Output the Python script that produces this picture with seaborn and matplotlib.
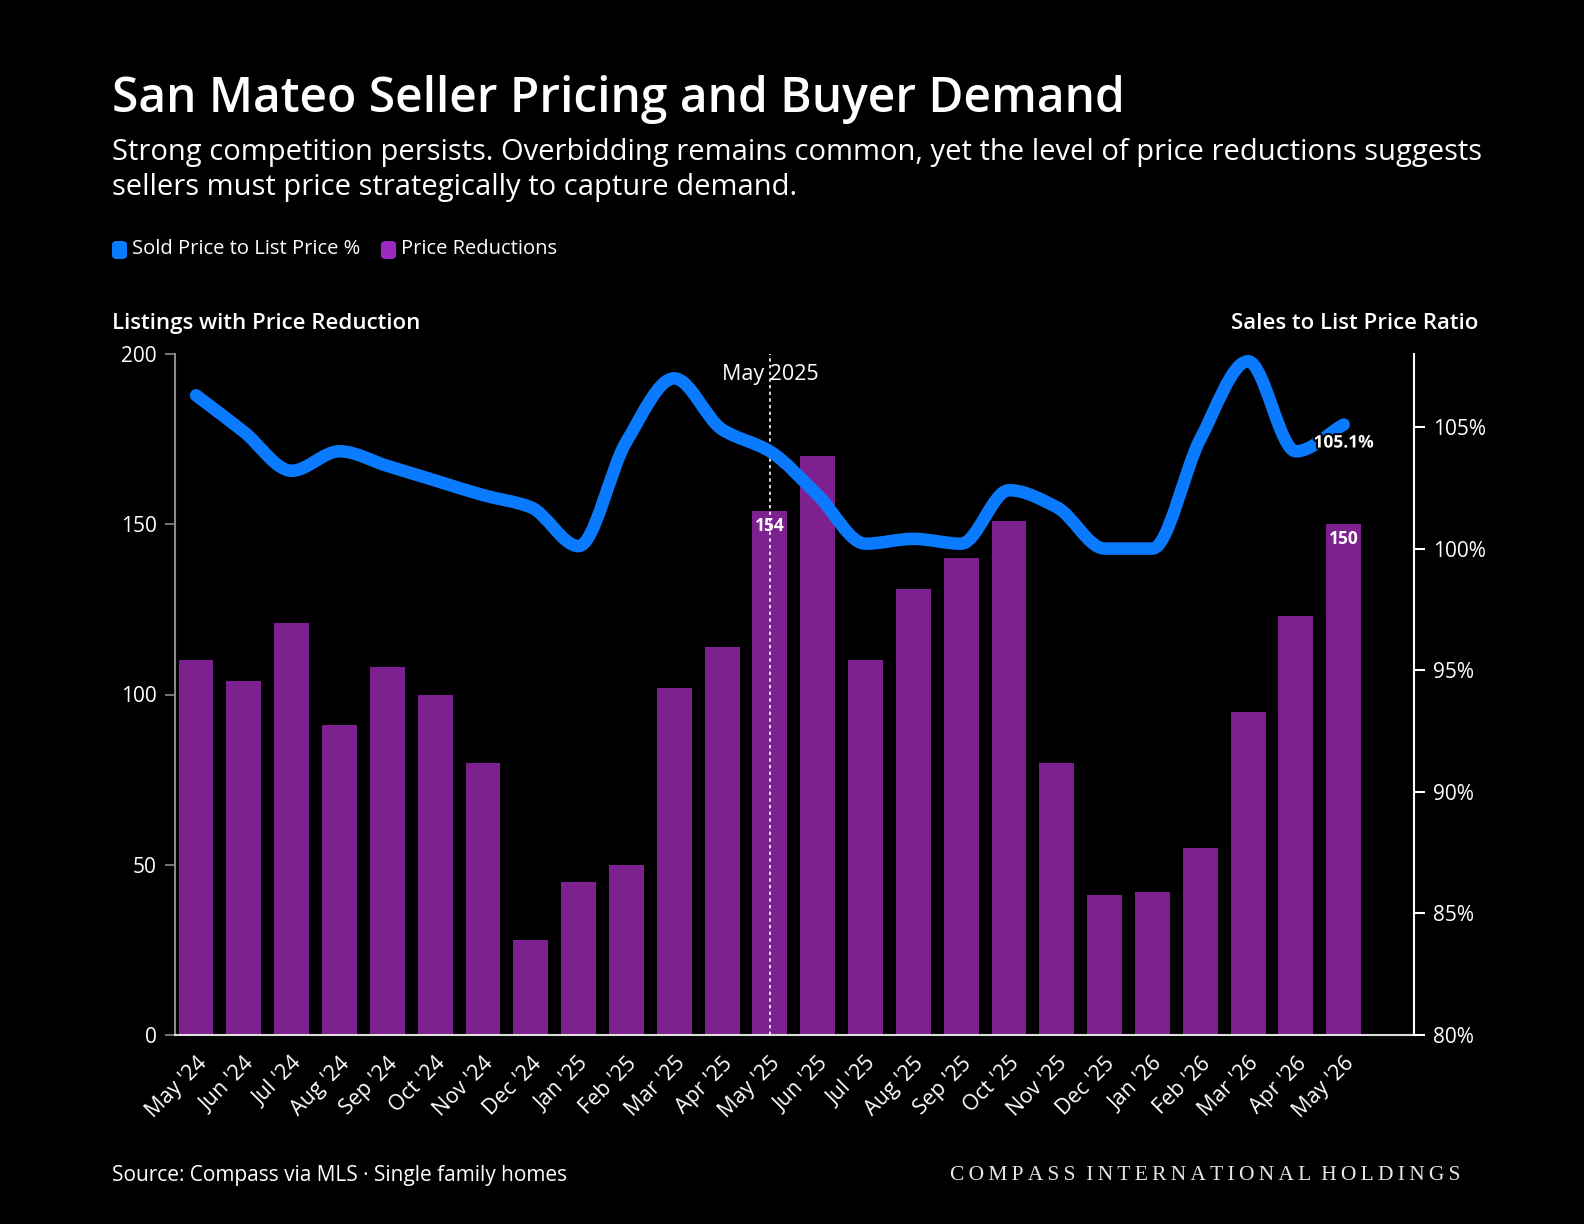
import numpy as np
import pandas as pd
import matplotlib
matplotlib.use("Agg")
import matplotlib.pyplot as plt
import seaborn as sns
from matplotlib.path import Path
from matplotlib.patches import PathPatch, FancyBboxPatch
import matplotlib.patheffects as pe

# Data
months = ["May '24", "Jun '24", "Jul '24", "Aug '24", "Sep '24", "Oct '24", "Nov '24",
          "Dec '24", "Jan '25", "Feb '25", "Mar '25", "Apr '25", "May '25", "Jun '25",
          "Jul '25", "Aug '25", "Sep '25", "Oct '25", "Nov '25", "Dec '25", "Jan '26",
          "Feb '26", "Mar '26", "Apr '26", "May '26"]
price_reductions = [110, 104, 121, 91, 108, 100, 80, 28, 45, 50, 102, 114, 154, 170,
                    110, 131, 140, 151, 80, 41, 42, 55, 95, 123, 150]
sold_to_list = [106.3, 104.8, 103.2, 104.0, 103.4, 102.8, 102.2, 101.7, 100.1, 104.4,
                107.0, 104.9, 104.0, 102.2, 100.2, 100.4, 100.2, 102.4, 101.7, 100.0,
                100.0, 104.5, 107.7, 104.0, 105.1]
left_ticks = [0, 50, 100, 150, 200]
right_ticks = [80, 85, 90, 95, 100, 105]
highlight_month = "May '25"

BLUE = "#0A7BFF"
PURPLE = "#7E2190"
FONT = ["Open Sans", "DejaVu Sans"]

df = pd.DataFrame({"month": months, "reductions": price_reductions, "ratio": sold_to_list})

sns.set_theme(style="dark")
plt.rcParams["font.family"] = FONT
plt.rcParams["text.color"] = "white"

fig = plt.figure(figsize=(15.84, 12.24), dpi=100, facecolor="black")
ax = fig.add_axes([175 / 1584, 1 - 1035 / 1224, (1414 - 175) / 1584, (1035 - 354) / 1224])
ax.set_facecolor("black")

sns.barplot(data=df, x="month", y="reductions", color=PURPLE, saturation=1,
            width=0.73, linewidth=0, edgecolor="none", ax=ax, zorder=2)
ax.set_xlim(-0.44, 25.47)
ax.set_ylim(0, 200)
ax.set_yticks(left_ticks)
ax.set_xlabel("")
ax.set_ylabel("")
ax.grid(False)
ax.set_xticks(range(len(months)))
ax.set_xticklabels(months, rotation=45, ha="right", rotation_mode="anchor",
                   fontsize=15.5, color="white")
ax.tick_params(axis="x", length=8, width=1.2, color="white", pad=5)
ax.tick_params(axis="y", length=7, width=1.2, color="#8a8a8a", labelsize=15,
               labelcolor="white", pad=6)
for s in ["top", "right"]:
    ax.spines[s].set_visible(False)
ax.spines["left"].set_color("#8a8a8a")
ax.spines["left"].set_linewidth(1.5)
ax.spines["bottom"].set_color("#dddddd")
ax.spines["bottom"].set_linewidth(1.5)

# bar value labels
for i in (months.index(highlight_month), len(months) - 1):
    ax.annotate(str(price_reductions[i]), (i, price_reductions[i]), xytext=(0, -6),
                textcoords="offset pixels", ha="center", va="top", fontsize=12.5,
                fontweight="bold", color="white", zorder=5)

# highlight line
hx = months.index(highlight_month)
ax.axvline(hx, color="white", lw=1.2, ls=(0, (2, 2)), zorder=4)
ax.text(hx, 194, "May 2025", ha="center", va="center", fontsize=15.5, color="white", zorder=5)

# right axis: sold to list ratio
ax2 = ax.twinx()
ax2.set_ylim(80, 108)
ax2.set_yticks(right_ticks)
ax2.set_yticklabels([f"{t}%" for t in right_ticks])
ax2.tick_params(axis="y", length=8, width=1.5, color="white", labelsize=15,
                labelcolor="white", pad=6)
ax2.grid(False)
for s in ["top", "left", "bottom"]:
    ax2.spines[s].set_visible(False)
ax2.spines["right"].set_color("white")
ax2.spines["right"].set_linewidth(1.5)

# monotone cubic curve through the points
x = np.arange(len(sold_to_list), dtype=float)
y = np.array(sold_to_list)
d = np.diff(y)
m = np.zeros_like(y)
m[0], m[-1] = d[0], d[-1]
for k in range(1, len(y) - 1):
    if d[k - 1] * d[k] > 0:
        m[k] = 2 / (1 / d[k - 1] + 1 / d[k])
verts = [(x[0], y[0])]
codes = [Path.MOVETO]
for k in range(len(y) - 1):
    verts += [(x[k] + 1 / 3, y[k] + m[k] / 3), (x[k + 1] - 1 / 3, y[k + 1] - m[k + 1] / 3),
              (x[k + 1], y[k + 1])]
    codes += [Path.CURVE4] * 3
curve = PathPatch(Path(verts, codes), facecolor="none", edgecolor=BLUE, lw=9,
                  capstyle="round", joinstyle="round", zorder=3)
ax2.add_patch(curve)
ax2.annotate(f"{sold_to_list[-1]}%", (x[-1], y[-1]), xytext=(0, -18),
             textcoords="offset pixels", ha="center", va="center", fontsize=12.5,
             fontweight="bold", color="white", zorder=6,
             path_effects=[pe.withStroke(linewidth=3, foreground="black")])

# titles and labels
fig.text(112 / 1584, 1 - 100 / 1224, "San Mateo Seller Pricing and Buyer Demand",
         fontsize=34.5, fontweight="semibold", va="center", ha="left")
fig.text(112 / 1584, 1 - 170 / 1224,
         "Strong competition persists. Overbidding remains common, yet the level of price reductions suggests\n"
         "sellers must price strategically to capture demand.",
         fontsize=21, va="center", ha="left", linespacing=1.25)

legend_items = [(112, BLUE, "Sold Price to List Price %"), (381, "#9B2BC0", "Price Reductions")]
for px, col, lab in legend_items:
    fig.patches.append(FancyBboxPatch((px / 1584, 1 - 259 / 1224), 15 / 1584, 18 / 1224,
                                      boxstyle="round,pad=0,rounding_size=0.003",
                                      transform=fig.transFigure, facecolor=col,
                                      edgecolor="none"))
    fig.text((px + 20) / 1584, 1 - 249 / 1224, lab, fontsize=14.5, va="center", ha="left")

fig.text(112 / 1584, 1 - 324 / 1224, "Listings with Price Reduction", fontsize=16,
         fontweight="semibold", va="center", ha="left")
fig.text(1478 / 1584, 1 - 324 / 1224, "Sales to List Price Ratio", fontsize=16,
         fontweight="semibold", va="center", ha="right")

fig.text(112 / 1584, 1 - 1176 / 1224, "Source: Compass via MLS \u00b7 Single family homes",
         fontsize=15, va="center", ha="left")
fig.text(1460 / 1584, 1 - 1176 / 1224,
         "\u2009".join("COMPASS") + "  " + "\u2009".join("INTERNATIONAL") + "  " + "\u2009".join("HOLDINGS"),
         fontsize=15.5, va="center", ha="right", color="#e6e6e6",
         family=["Liberation Serif", "DejaVu Serif"])

fig.savefig("out.png", dpi=100, facecolor="black")
